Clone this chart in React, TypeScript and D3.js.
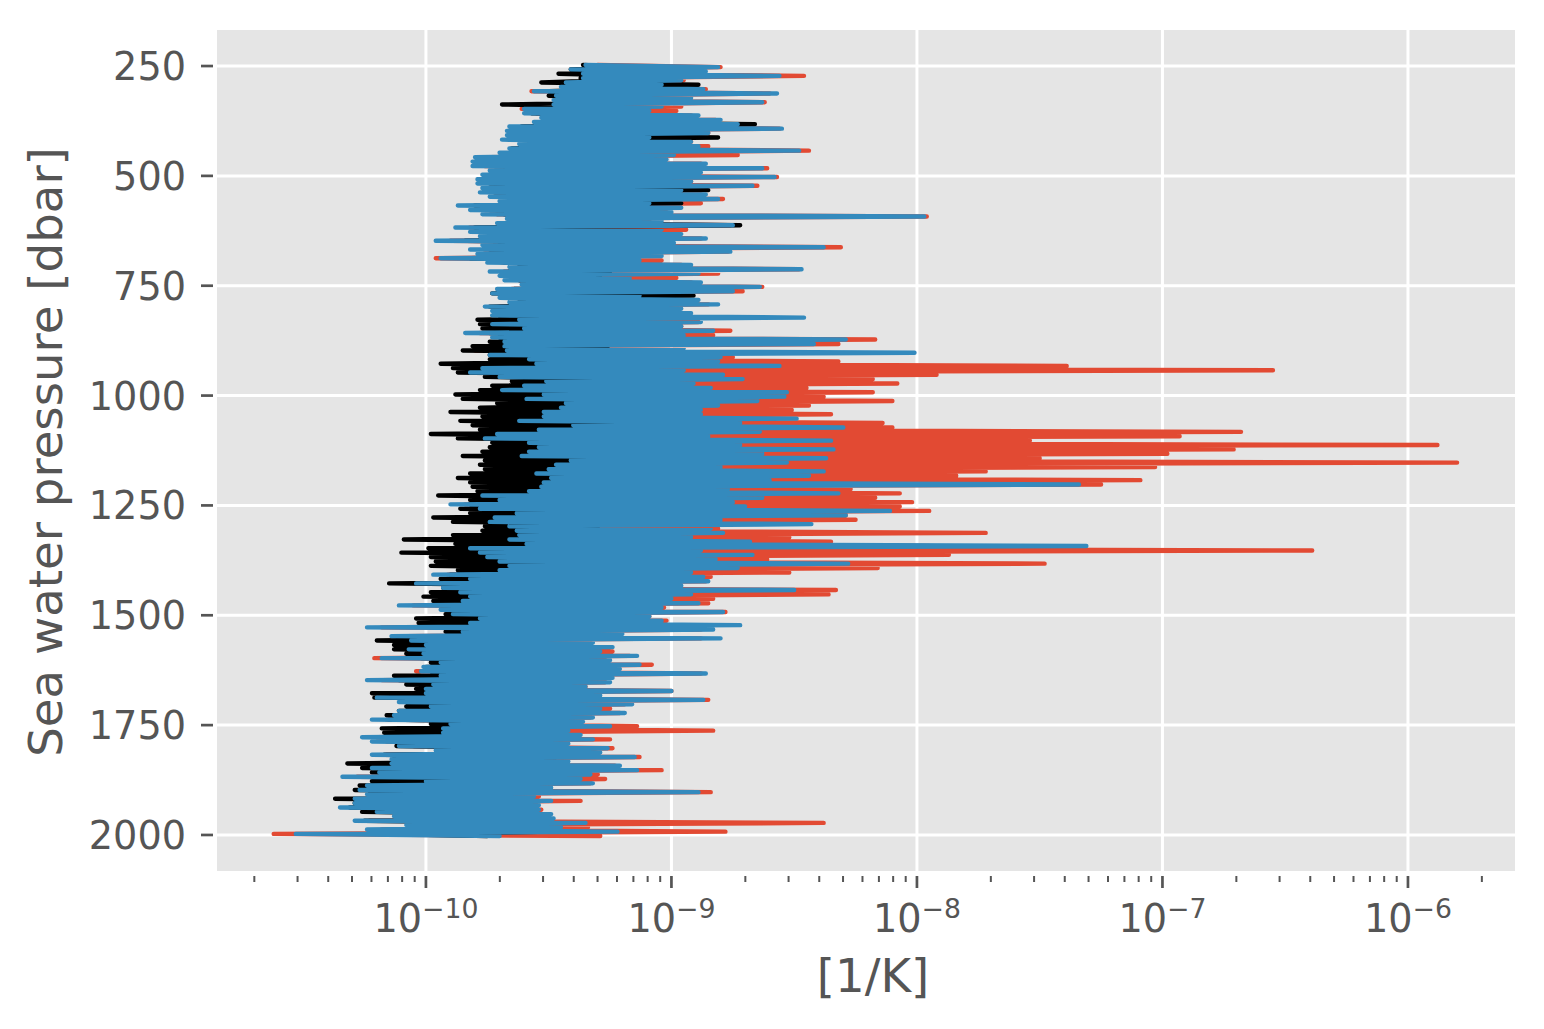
import React from "react";
import * as d3 from "d3";

// Depth rows: every series is sampled on the same pressure rows [dbar]
const pressureStart = 250;
const pressureStep = 10;

// All values are log10 of the quantity in [1/K]
const blueLo = [
  -9.35,-9.41,-9.36,-9.36,-9.43,-9.45,-9.56,-9.47,-9.48,-9.48,
  -9.60,-9.60,-9.53,-9.56,-9.66,-9.67,-9.67,-9.69,-9.62,-9.66,
  -9.70,-9.80,-9.81,-9.81,-9.74,-9.77,-9.79,-9.79,-9.77,-9.78,
  -9.74,-9.70,-9.87,-9.82,-9.77,-9.67,-9.71,-9.88,-9.82,-9.78,
  -9.96,-9.77,-9.82,-9.79,-9.94,-9.75,-9.66,-9.74,-9.70,-9.68,
  -9.61,-9.71,-9.73,-9.70,-9.66,-9.76,-9.73,-9.73,-9.62,-9.73,
  -9.60,-9.84,-9.73,-9.68,-9.68,-9.67,-9.74,-9.58,-9.55,-9.77,
  -9.82,-9.70,-9.51,-9.60,-9.69,-9.52,-9.59,-9.43,-9.45,-9.52,
  -9.52,-9.62,-9.40,-9.54,-9.71,-9.76,-9.58,-9.54,-9.58,-9.61,
  -9.41,-9.47,-9.50,-9.55,-9.49,-9.52,-9.53,-9.58,-9.77,-9.70,
  -9.90,-9.78,-9.63,-9.72,-9.74,-9.66,-9.63,-9.62,-9.66,-9.59,
  -9.82,-9.78,-9.75,-9.70,-9.66,-9.70,-9.97,-9.82,-10.04,-9.93,
  -9.86,-9.82,-9.85,-10.11,-9.94,-9.89,-9.78,-9.82,-10.24,-9.85,
  -10.14,-10.06,-10.00,-10.07,-10.01,-10.18,-9.94,-10.01,-10.02,-9.94,
  -10.24,-9.97,-10.00,-10.00,-10.20,-10.11,-9.98,-10.11,-10.13,-10.22,
  -9.90,-9.93,-9.93,-10.26,-10.22,-10.11,-9.96,-10.22,-10.14,-10.14,
  -10.22,-10.19,-10.34,-10.00,-10.24,-10.27,-10.24,-10.29,-10.29,-10.35,
  -10.20,-10.13,-10.29,-10.08,-10.24,-10.53,
];
const blueHi = [
  -8.81,-8.86,-8.56,-8.96,-9.04,-8.87,-8.57,-8.92,-8.63,-9.04,
  -9.09,-8.89,-8.80,-8.73,-8.55,-8.85,-9.09,-8.92,-8.89,-8.48,
  -8.99,-9.02,-8.86,-8.63,-8.88,-8.58,-8.92,-8.67,-8.96,-8.86,
  -8.81,-9.09,-8.96,-9.00,-7.97,-9.04,-8.75,-9.04,-8.96,-8.86,
  -8.99,-8.38,-8.76,-9.04,-9.13,-8.92,-8.47,-8.89,-9.17,-8.88,
  -8.64,-8.75,-9.13,-8.89,-8.81,-8.96,-8.92,-8.46,-8.88,-8.96,
  -8.83,-8.95,-8.29,-8.42,-8.95,-8.01,-8.80,-8.81,-8.56,-8.95,
  -8.79,-8.71,-8.91,-8.84,-8.53,-8.54,-8.65,-8.81,-8.88,-8.88,
  -8.49,-8.72,-8.30,-8.64,-8.85,-8.35,-8.72,-8.34,-8.63,-8.37,
  -8.53,-8.80,-8.38,-8.44,-8.60,-7.34,-8.77,-8.32,-8.63,-8.75,
  -8.70,-8.11,-8.29,-8.80,-8.43,-8.84,-8.79,-8.92,-8.68,-7.31,
  -8.88,-8.67,-8.82,-8.28,-8.73,-8.92,-8.87,-8.85,-8.96,-8.50,
  -8.92,-9.00,-8.89,-9.04,-8.79,-9.09,-9.04,-8.72,-8.83,-9.20,
  -8.80,-9.32,-9.24,-9.29,-9.14,-9.25,-9.13,-9.21,-8.86,-9.24,
  -9.25,-9.35,-9.00,-9.29,-8.87,-9.16,-9.29,-9.19,-9.32,-9.36,
  -9.25,-9.42,-9.37,-9.32,-9.42,-9.26,-9.29,-9.15,-9.42,-9.21,
  -9.14,-9.33,-9.37,-9.32,-9.49,-8.89,-9.56,-9.49,-9.54,-9.54,
  -9.49,-9.48,-9.35,-9.45,-9.22,-9.70,
];
const redLo = [
  -9.30,-9.35,-9.30,-9.32,-9.38,-9.40,-9.57,-9.42,-9.44,-9.43,
  -9.61,-9.55,-9.48,-9.50,-9.60,-9.62,-9.62,-9.64,-9.58,-9.60,
  -9.64,-9.74,-9.75,-9.76,-9.68,-9.70,-9.74,-9.72,-9.70,-9.72,
  -9.68,-9.64,-9.80,-9.76,-9.71,-9.61,-9.65,-9.82,-9.76,-9.72,
  -9.90,-9.72,-9.76,-9.73,-9.96,-9.69,-9.60,-9.68,-9.64,-9.62,
  -9.56,-9.65,-9.67,-9.64,-9.60,-9.70,-9.67,-9.67,-9.56,-9.67,
  -9.54,-9.78,-9.67,-9.62,-9.62,-9.80,-9.68,-9.52,-9.58,-9.71,
  -9.76,-9.64,-9.45,-9.54,-9.63,-9.46,-9.53,-9.37,-9.39,-9.46,
  -9.46,-9.56,-9.34,-9.48,-9.65,-9.70,-9.52,-9.48,-9.52,-9.55,
  -9.35,-9.41,-9.44,-9.49,-9.43,-9.46,-9.47,-9.52,-9.71,-9.64,
  -9.84,-9.72,-9.57,-9.66,-9.68,-9.60,-9.57,-9.56,-9.60,-9.53,
  -9.76,-9.72,-9.69,-9.64,-9.60,-9.64,-9.91,-9.76,-10.04,-9.87,
  -9.80,-9.76,-9.79,-10.05,-9.88,-9.83,-9.72,-9.76,-10.18,-9.79,
  -10.08,-10.00,-9.94,-10.01,-9.95,-10.21,-9.88,-9.95,-10.04,-9.88,
  -10.18,-9.91,-9.94,-9.94,-10.14,-10.05,-9.92,-10.05,-10.07,-10.16,
  -9.84,-9.87,-9.87,-10.20,-10.16,-10.05,-9.90,-10.16,-10.08,-10.08,
  -10.16,-10.13,-10.28,-9.94,-10.18,-10.21,-10.18,-10.23,-10.23,-10.29,
  -10.14,-10.07,-10.23,-10.02,-10.18,-10.62,
];
const redHi = [
  -8.80,-8.88,-8.46,-8.95,-8.96,-8.86,-8.60,-8.98,-8.62,-8.96,
  -8.98,-8.92,-8.82,-8.76,-8.56,-8.85,-9.13,-8.92,-8.85,-8.44,
  -8.73,-9.03,-8.88,-8.61,-8.92,-8.57,-8.92,-8.65,-8.98,-8.88,
  -8.79,-8.88,-9.04,-9.02,-7.96,-9.09,-8.76,-8.94,-9.04,-8.88,
  -9.04,-8.31,-8.77,-9.13,-9.04,-8.96,-8.48,-8.81,-8.98,-8.92,
  -8.63,-8.71,-9.19,-8.92,-8.85,-9.04,-8.96,-8.88,-8.89,-8.96,
  -8.76,-8.83,-8.17,-8.32,-8.96,-8.88,-8.75,-8.32,-7.39,-6.55,
  -7.92,-8.18,-8.08,-8.45,-8.18,-8.38,-8.10,-8.44,-8.51,-8.35,
  -8.58,-8.14,-8.10,-6.68,-6.93,-7.54,-5.88,-6.71,-6.98,-7.50,
  -5.80,-7.03,-7.72,-7.84,-7.09,-7.25,-8.27,-8.07,-8.17,-8.02,
  -8.07,-7.95,-8.29,-8.25,-8.80,-8.81,-7.72,-8.52,-8.35,-7.95,
  -6.39,-7.87,-8.61,-7.48,-8.16,-8.52,-8.84,-8.86,-9.09,-8.33,
  -8.36,-8.83,-8.85,-9.03,-8.78,-9.09,-9.02,-9.07,-8.88,-9.21,
  -8.88,-9.33,-9.25,-9.24,-9.17,-9.27,-9.08,-9.23,-8.88,-9.25,
  -9.27,-9.35,-9.00,-9.31,-8.85,-9.19,-9.25,-9.21,-9.33,-9.37,
  -9.14,-8.83,-9.39,-9.25,-9.43,-9.24,-9.31,-9.13,-9.43,-9.23,
  -9.04,-9.30,-9.27,-9.33,-9.52,-8.84,-9.54,-9.37,-9.55,-9.53,
  -9.52,-9.51,-8.38,-9.34,-8.78,-9.29,
];
const blackLo = [
  -9.36,-9.41,-9.46,-9.37,-9.53,-9.41,-9.50,-9.50,-9.46,-9.69,
  -9.53,-9.57,-9.47,-9.50,-9.61,-9.61,-9.57,-9.66,-9.57,-9.65,
  -9.57,-9.70,-9.70,-9.72,-9.66,-9.72,-9.70,-9.74,-9.68,-9.72,
  -9.66,-9.62,-9.80,-9.74,-9.68,-9.60,-9.64,-9.80,-9.74,-9.70,
  -9.84,-9.70,-9.74,-9.72,-9.82,-9.68,-9.62,-9.66,-9.64,-9.62,
  -9.58,-9.64,-9.73,-9.64,-9.62,-9.74,-9.70,-9.70,-9.79,-9.78,
  -9.77,-9.74,-9.70,-9.74,-9.81,-9.85,-9.74,-9.74,-9.94,-9.89,
  -9.87,-9.76,-9.65,-9.73,-9.78,-9.88,-9.85,-9.71,-9.78,-9.90,
  -9.77,-9.86,-9.81,-9.78,-9.98,-9.87,-9.73,-9.74,-9.77,-9.85,
  -9.76,-9.78,-9.76,-9.82,-9.87,-9.82,-9.81,-9.79,-9.95,-9.82,
  -9.82,-9.86,-9.82,-9.97,-9.89,-9.76,-9.77,-9.89,-10.09,-9.88,
  -9.99,-10.10,-9.98,-9.96,-9.98,-9.87,-9.90,-9.94,-10.15,-9.93,
  -9.98,-10.01,-9.97,-9.94,-9.89,-9.92,-10.04,-10.03,-9.94,-9.92,
  -9.94,-10.20,-10.13,-10.13,-10.08,-10.02,-9.98,-10.00,-9.98,-10.13,
  -10.11,-10.08,-10.04,-10.22,-10.21,-10.08,-10.08,-10.11,-10.16,-10.15,
  -9.98,-10.18,-10.17,-10.13,-10.13,-10.12,-9.94,-10.17,-10.13,-10.32,
  -10.26,-10.22,-10.15,-10.22,-10.27,-10.29,-10.23,-10.37,-10.29,-10.31,
  -10.26,-10.11,-10.25,-9.98,-10.11,-10.19,
];
const blackHi = [
  -9.18,-9.22,-9.12,-9.25,-8.89,-9.21,-9.10,-9.26,-9.14,-9.28,
  -9.24,-9.12,-9.20,-8.66,-9.16,-9.27,-8.81,-9.25,-9.19,-9.15,
  -9.26,-9.23,-9.18,-9.20,-9.27,-9.15,-9.24,-9.13,-8.85,-9.21,
  -9.25,-8.96,-9.22,-9.28,-9.10,-9.27,-8.72,-9.25,-9.19,-9.23,
  -9.26,-9.12,-9.20,-9.28,-9.24,-9.18,-9.15,-9.25,-9.29,-9.21,
  -9.16,-9.23,-8.91,-9.22,-9.20,-9.26,-9.24,-9.18,-9.21,-9.25,
  -9.19,-9.27,-9.12,-9.17,-9.26,-9.14,-9.23,-9.25,-9.15,-9.28,
  -9.20,-9.18,-9.24,-9.22,-9.16,-9.19,-9.21,-9.26,-9.28,-9.24,
  -9.17,-9.22,-9.14,-9.21,-9.25,-9.18,-9.23,-9.16,-9.20,-9.19,
  -9.22,-9.27,-9.18,-9.20,-9.24,-9.16,-9.26,-9.19,-9.23,-9.27,
  -9.25,-9.20,-9.22,-9.28,-9.21,-9.30,-9.26,-9.32,-9.24,-9.20,
  -9.30,-9.28,-9.31,-9.25,-9.33,-9.38,-9.35,-9.34,-9.40,-9.33,
  -9.39,-9.42,-9.36,-9.45,-9.38,-9.44,-9.46,-9.38,-9.41,-9.50,
  -9.42,-9.55,-9.48,-9.52,-9.46,-9.50,-9.45,-9.49,-9.40,-9.52,
  -9.51,-9.56,-9.43,-9.53,-9.42,-9.47,-9.52,-9.48,-9.55,-9.58,
  -9.50,-9.60,-9.58,-9.56,-9.60,-9.52,-9.55,-9.47,-9.60,-9.50,
  -9.46,-9.56,-9.58,-9.55,-9.64,-9.45,-9.67,-9.63,-9.65,-9.66,
  -9.63,-9.62,-9.54,-9.60,-9.48,-9.75,
];

const yTickValues = [250, 500, 750, 1000, 1250, 1500, 1750, 2000];
const xTickExponents = [-10, -9, -8, -7, -6];
const xMinorDecades = [-11, -10, -9, -8, -7, -6];
const xMinorMultipliers = [2, 3, 4, 5, 6, 7, 8, 9];

const seriesColors = { red: "#E24A33", black: "#000000", blue: "#348ABD" };
const FONT = "'DejaVu Sans', sans-serif";
const INK = "#555555";

const W = 1544;
const H = 1029;
const plot = { left: 217, right: 1515, top: 30, bottom: 871 };

// Scales are pinned by the axes' data limits
const x = d3.scaleLog().domain([10 ** -10.851, 10 ** -5.564]).range([plot.left, plot.right]);
const y = d3.scaleLinear().domain([168, 2082]).range([plot.top, plot.bottom]);

type Pt = { p: number; e: number };
const line = d3.line<Pt>().x((d) => x(10 ** d.e)).y((d) => y(d.p)).curve(d3.curveLinear);

function zigzag(lo: number[], hi: number[]): string {
  const pts: Pt[] = [];
  lo.forEach((e, i) => {
    const p = pressureStart + i * pressureStep;
    pts.push({ p: p - pressureStep / 4, e });
    pts.push({ p: p + pressureStep / 4, e: hi[i] });
  });
  return line(pts) ?? "";
}

export default function App() {
  const series = [
    { key: "red", d: zigzag(redLo, redHi), color: seriesColors.red },
    { key: "black", d: zigzag(blackLo, blackHi), color: seriesColors.black },
    { key: "blue", d: zigzag(blueLo, blueHi), color: seriesColors.blue },
  ];
  const minors = xMinorDecades
    .flatMap((dec) => xMinorMultipliers.map((m) => m * 10 ** dec))
    .filter((v) => x(v) >= plot.left && x(v) <= plot.right);

  return (
    <svg
      width={W}
      height={H}
      viewBox={`0 0 ${W} ${H}`}
      style={{ position: "absolute", left: 0, top: 0, display: "block" }}
      fontFamily={FONT}
    >
      <rect x={0} y={0} width={W} height={H} fill="#ffffff" />
      <rect
        x={plot.left}
        y={plot.top}
        width={plot.right - plot.left}
        height={plot.bottom - plot.top}
        fill="#E5E5E5"
      />
      {yTickValues.map((t) => (
        <line key={t} x1={plot.left} x2={plot.right} y1={y(t)} y2={y(t)} stroke="#fff" strokeWidth={3} />
      ))}
      {xTickExponents.map((t) => (
        <line key={t} x1={x(10 ** t)} x2={x(10 ** t)} y1={plot.top} y2={plot.bottom} stroke="#fff" strokeWidth={3} />
      ))}
      {series.map((s) => (
        <path
          key={s.key}
          d={s.d}
          fill="none"
          stroke={s.color}
          strokeWidth={4.4}
          strokeLinejoin="round"
          strokeLinecap="round"
        />
      ))}
      {yTickValues.map((t) => (
        <g key={t}>
          <line x1={201} x2={213} y1={y(t)} y2={y(t)} stroke={INK} strokeWidth={2.7} />
          <text x={186} y={y(t) + 14} textAnchor="end" fontSize={38.2} fill={INK}>
            {t}
          </text>
        </g>
      ))}
      {minors.map((v) => (
        <line key={v} x1={x(v)} x2={x(v)} y1={876} y2={882} stroke={INK} strokeWidth={2} />
      ))}
      {xTickExponents.map((t) => (
        <g key={t}>
          <line x1={x(10 ** t)} x2={x(10 ** t)} y1={876} y2={888} stroke={INK} strokeWidth={2.7} />
          <text x={x(10 ** t)} y={932} textAnchor="middle" fontSize={38.2} fill={INK}>
            10
            <tspan dy={-14} fontSize={26.7}>
              {`\u2212${Math.abs(t)}`}
            </tspan>
          </text>
        </g>
      ))}
      <text x={873} y={992} textAnchor="middle" fontSize={46.7} fill={INK}>
        [1/K]
      </text>
      <text
        transform={`translate(62,452) rotate(-90)`}
        textAnchor="middle"
        fontSize={46.7}
        fill={INK}
      >
        Sea water pressure [dbar]
      </text>
    </svg>
  );
}
